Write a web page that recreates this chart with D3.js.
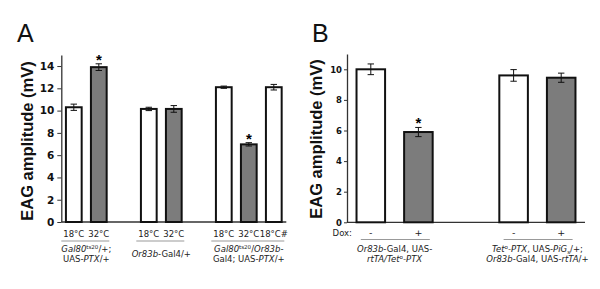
<!DOCTYPE html>
<html>
<head>
<meta charset="utf-8">
<script src="https://cdn.jsdelivr.net/npm/d3@7"></script>
<style>
  body { margin: 0; background: #fff; }
  svg { display: block; }
</style>
</head>
<body>
<svg id="chart" width="600" height="289"></svg>
<script>
// ---- panel A data ----
const tempsA = ['18°C', '32°C', '18°C', '32°C', '18°C', '32°C', '18°C#'];
const valuesA = [10.3, 13.9, 10.15, 10.15, 12.1, 6.97, 12.1];
const errorsA = [0.28, 0.3, 0.15, 0.3, 0.1, 0.15, 0.25];
const shadedA = [false, true, false, true, false, true, false];
const starA = [false, true, false, false, false, true, false];
const slotsA = [0, 1, 3, 4, 6, 7, 8];
const groupSlotsA = [[0, 1], [3, 4], [6, 7, 8]];
const ticksA = [0, 2, 4, 6, 8, 10, 12, 14];
const genoA = [
  [[['Gal80', 'i'], ['ts20', 'sup'], ['/+;', 'n']], [['UAS-', 'n'], ['PTX', 'i'], ['/+', 'n']]],
  [[['Or83b', 'i'], ['-Gal4/+', 'n']]],
  [[['Gal80', 'i'], ['ts20', 'sup'], ['/', 'n'], ['Or83b', 'i'], ['-', 'n']], [['Gal4; UAS-', 'n'], ['PTX', 'i'], ['/+', 'n']]]
];

// ---- panel B data ----
const doxB = ['-', '+', '-', '+'];
const valuesB = [10.0, 5.9, 9.6, 9.45];
const errorsB = [0.35, 0.3, 0.38, 0.3];
const shadedB = [false, true, false, true];
const starB = [false, true, false, false];
const slotsB = [0, 1, 3, 4];
const groupSlotsB = [[0, 1], [3, 4]];
const ticksB = [0, 2, 4, 6, 8, 10];
const genoB = [
  [[['Or83b', 'i'], ['-Gal4, UAS-', 'n']], [['rtTA/Tet', 'i'], ['o', 'sup'], ['-PTX', 'i']]],
  [[['Tet', 'i'], ['o', 'sup'], ['-PTX', 'i'], [', UAS-', 'n'], ['PiG', 'i'], ['s', 'sub'], ['/+;', 'n']],
   [['Or83b', 'i'], ['-Gal4, UAS-', 'n'], ['rtTA', 'i'], ['/+', 'n']]]
];

const svg = d3.select('#chart');
const labelFont = 'DejaVu Sans, Verdana, sans-serif';

function richLine(g, x, y, segs, size) {
  const t = g.append('text')
    .attr('x', x).attr('y', y)
    .attr('text-anchor', 'middle')
    .attr('font-family', labelFont)
    .attr('font-size', size)
    .attr('fill', '#222');
  let shift = 0;
  segs.forEach(([txt, kind]) => {
    const s = t.append('tspan').text(txt);
    let target = 0;
    if (kind === 'sup') target = -3;
    if (kind === 'sub') target = 2;
    s.attr('dy', target - shift);
    shift = target;
    if (kind === 'sup' || kind === 'sub') s.attr('font-size', size * 0.65);
    if (kind === 'i') s.attr('font-style', 'italic');
  });
}

function panel(opt) {
  const x = d3.scaleLinear().domain([-0.5, opt.nSlots - 0.5]).range(opt.xRange);
  const y = d3.scaleLinear().domain([0, opt.yMax]).range([opt.y0, opt.y0 - opt.yMax * opt.unit]);
  const step = x(1) - x(0);
  const bw = step * opt.barFrac;

  // y axis
  const ax = svg.append('g')
    .attr('transform', `translate(${opt.xRange[0]},0)`)
    .call(d3.axisLeft(y).tickValues(opt.ticks).tickSize(opt.tickLen).tickPadding(opt.tickPad).tickSizeOuter(0));
  ax.select('.domain').attr('stroke', '#333').attr('stroke-width', 1.3);
  ax.selectAll('.tick line').attr('stroke', '#333');
  ax.selectAll('.tick text')
    .attr('font-family', labelFont)
    .attr('font-weight', 'bold')
    .attr('font-size', opt.tickFont)
    .attr('fill', '#111');

  // x axis line
  svg.append('line')
    .attr('x1', opt.xRange[0]).attr('x2', opt.xRange[1])
    .attr('y1', y(0)).attr('y2', y(0))
    .attr('stroke', '#333').attr('stroke-width', 1.3);

  const bars = svg.append('g');
  opt.values.forEach((v, i) => {
    const cx = x(opt.slots[i]);
    bars.append('rect')
      .attr('x', cx - bw / 2).attr('y', y(v))
      .attr('width', bw).attr('height', y(0) - y(v))
      .attr('fill', opt.shaded[i] ? '#7c7c7c' : '#fff')
      .attr('stroke', '#111').attr('stroke-width', 2);
    const e = opt.errors[i];
    const cap = 3.2;
    bars.append('path')
      .attr('d', `M${cx},${y(v - e)}V${y(v + e)}M${cx - cap},${y(v - e)}H${cx + cap}M${cx - cap},${y(v + e)}H${cx + cap}`)
      .attr('stroke', '#111').attr('stroke-width', 1).attr('fill', 'none');
    if (opt.stars[i]) {
      bars.append('text')
        .attr('x', cx).attr('y', y(v + e) + 1)
        .attr('text-anchor', 'middle')
        .attr('font-family', 'Liberation Sans, Arial, sans-serif')
        .attr('font-weight', 'bold')
        .attr('font-size', 15)
        .text('*');
    }
    bars.append('text')
      .attr('x', cx).attr('y', opt.catY)
      .attr('text-anchor', 'middle')
      .attr('font-family', labelFont)
      .attr('font-size', opt.catFont)
      .attr('fill', '#222')
      .text(opt.cats[i]);
  });

  // group underline + genotype labels
  opt.groups.forEach((gs, gi) => {
    const a = gs[0], b = gs[gs.length - 1];
    svg.append('line')
      .attr('x1', x(a) - step * opt.ulLeft).attr('x2', x(b) + step * opt.ulRight)
      .attr('y1', opt.ulY).attr('y2', opt.ulY)
      .attr('stroke', '#999').attr('stroke-width', 1);
    const cx = (x(a) + x(b)) / 2;
    const lines = opt.geno[gi];
    const startY = lines.length === 1 ? opt.genoY + opt.genoGap / 2 : opt.genoY;
    lines.forEach((segs, li) => richLine(svg, cx, startY + li * opt.genoGap, segs, opt.genoFont));
  });

  // y label
  svg.append('text')
    .attr('transform', `translate(${opt.ylabX},${opt.ylabY}) rotate(-90)`)
    .attr('text-anchor', 'middle')
    .attr('font-family', 'Liberation Sans, Arial, sans-serif')
    .attr('font-weight', 'bold')
    .attr('font-size', 16.5)
    .attr('fill', '#111')
    .text('EAG amplitude (mV)');

  // panel letter
  svg.append('text')
    .attr('x', opt.letterX).attr('y', 42)
    .attr('font-family', 'Liberation Sans, Arial, sans-serif')
    .attr('font-size', 25)
    .attr('fill', '#111')
    .text(opt.letter);
}

panel({
  letter: 'A', letterX: 17,
  nSlots: 9, xRange: [61.3, 286.3], barFrac: 0.63,
  y0: 222, unit: 11.14, yMax: 15, ticks: ticksA,
  tickLen: 4, tickPad: 3, tickFont: 10.5,
  values: valuesA, errors: errorsA, shaded: shadedA, stars: starA, slots: slotsA,
  cats: tempsA, catY: 236.5, catFont: 8.5,
  groups: groupSlotsA, ulY: 241, ulLeft: 0.5, ulRight: 0.42,
  geno: genoA, genoY: 251.5, genoGap: 10, genoFont: 8.5,
  ylabX: 33, ylabY: 141
});

panel({
  letter: 'B', letterX: 312,
  nSlots: 5, xRange: [347, 585], barFrac: 0.6,
  y0: 222.3, unit: 15.3, yMax: 11, ticks: ticksB,
  tickLen: 3, tickPad: 2, tickFont: 8.5,
  values: valuesB, errors: errorsB, shaded: shadedB, stars: starB, slots: slotsB,
  cats: doxB, catY: 236, catFont: 9.5,
  groups: groupSlotsB, ulY: 239.5, ulLeft: 0.21, ulRight: 0.24,
  geno: genoB, genoY: 251.5, genoGap: 10, genoFont: 8.5,
  ylabX: 322, ylabY: 139
});

svg.append('text')
  .attr('x', 352).attr('y', 236)
  .attr('text-anchor', 'end')
  .attr('font-family', labelFont)
  .attr('font-size', 8.5)
  .attr('fill', '#222')
  .text('Dox:');
</script>
</body>
</html>
